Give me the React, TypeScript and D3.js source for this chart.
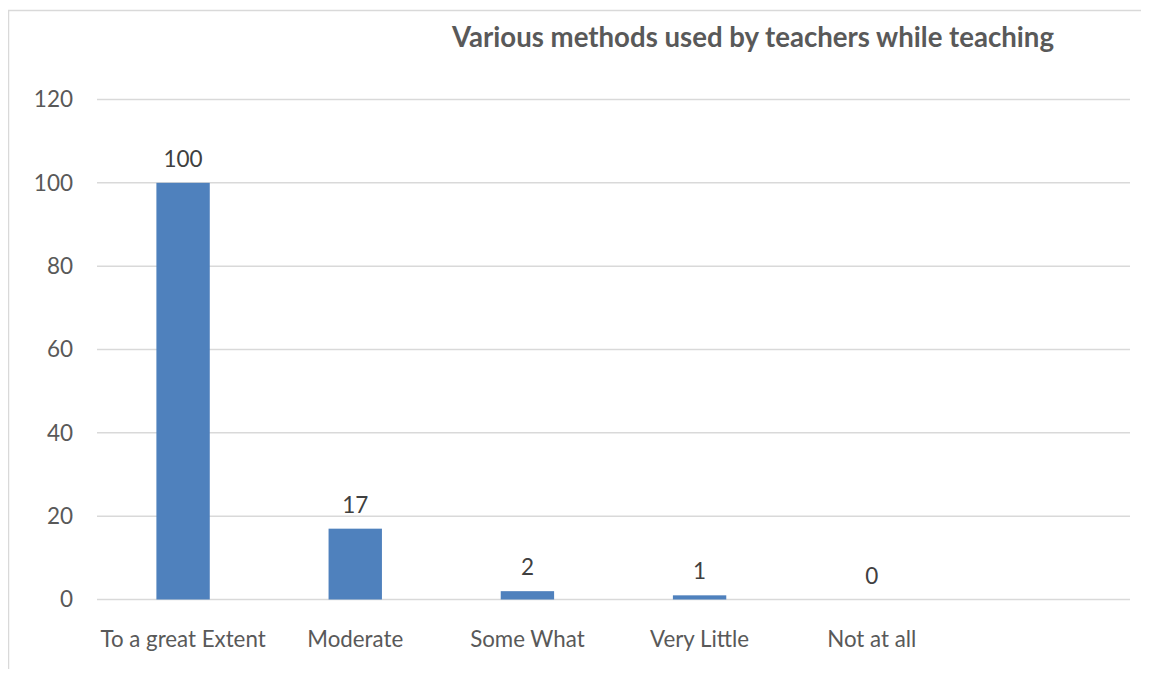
import { useEffect, useRef } from 'react'
import * as d3 from 'd3'

const categories = ['To a great Extent', 'Moderate', 'Some What', 'Very Little', 'Not at all', '']
const values = [100, 17, 2, 1, 0, null]
const yTicks = [0, 20, 40, 60, 80, 100, 120]
const title = 'Various methods used by teachers while teaching'

const W = 1149
const H = 677

export default function App() {
  const svgRef = useRef<SVGSVGElement>(null)

  useEffect(() => {
    if (!svgRef.current) return
    const svg = d3.select(svgRef.current)
    svg.selectAll('*').remove()

    const font = "Lato, 'Open Sans', 'Liberation Sans', sans-serif"
    const left = 97
    const right = 1130
    const top = 99.5
    const bottom = 599.5

    // outer frame (cropped on right and bottom)
    svg.append('path')
      .attr('d', `M8.5,${H} V10.5 H1148`)
      .attr('fill', 'none')
      .attr('stroke', '#d9d9d9')
      .attr('stroke-width', 1.5)

    const x = d3.scaleBand<string>()
      .domain(categories.map((c, i) => c || `__${i}`))
      .range([left, right])
      .padding(0)

    const y = d3.scaleLinear().domain([0, 120]).range([bottom, top])

    const g = svg.append('g')

    g.selectAll('line.grid')
      .data(yTicks)
      .join('line')
      .attr('class', 'grid')
      .attr('x1', left)
      .attr('x2', right)
      .attr('y1', d => y(d))
      .attr('y2', d => y(d))
      .attr('stroke', '#d9d9d9')
      .attr('stroke-width', 1.5)

    g.selectAll('text.ytick')
      .data(yTicks)
      .join('text')
      .attr('class', 'ytick')
      .attr('x', 73)
      .attr('y', d => y(d))
      .attr('dy', '0.35em')
      .attr('text-anchor', 'end')
      .attr('font-family', font)
      .attr('font-size', 22.5)
      .attr('fill', '#595959')
      .text(d => d)

    const barW = x.bandwidth() * 0.31
    const data = categories.map((c, i) => ({ key: c || `__${i}`, label: c, v: values[i] }))

    g.selectAll('rect.bar')
      .data(data.filter(d => d.v !== null && d.v > 0))
      .join('rect')
      .attr('class', 'bar')
      .attr('x', d => x(d.key)! + x.bandwidth() / 2 - barW / 2)
      .attr('y', d => y(d.v as number))
      .attr('width', barW)
      .attr('height', d => y(0) - y(d.v as number))
      .attr('fill', '#4f81bd')

    g.selectAll('text.val')
      .data(data.filter(d => d.v !== null))
      .join('text')
      .attr('class', 'val')
      .attr('x', d => x(d.key)! + x.bandwidth() / 2)
      .attr('y', d => y(d.v as number) - 16)
      .attr('text-anchor', 'middle')
      .attr('font-family', font)
      .attr('font-size', 22.5)
      .attr('fill', '#404040')
      .text(d => d.v as number)

    g.selectAll('text.cat')
      .data(data.filter(d => d.label))
      .join('text')
      .attr('class', 'cat')
      .attr('x', d => x(d.key)! + x.bandwidth() / 2)
      .attr('y', 647)
      .attr('text-anchor', 'middle')
      .attr('font-family', font)
      .attr('font-size', 22.3)
      .attr('fill', '#595959')
      .text(d => d.label)

    svg.append('text')
      .attr('x', 753)
      .attr('y', 47)
      .attr('text-anchor', 'middle')
      .attr('font-family', font)
      .attr('font-size', 27.6)
      .attr('font-weight', 'bold')
      .attr('fill', '#595959')
      .text(title)
  }, [])

  return (
    <div style={{ margin: -8 }}>
      <svg ref={svgRef} width={W} height={H} style={{ display: 'block', background: '#fff' }} />
    </div>
  )
}
